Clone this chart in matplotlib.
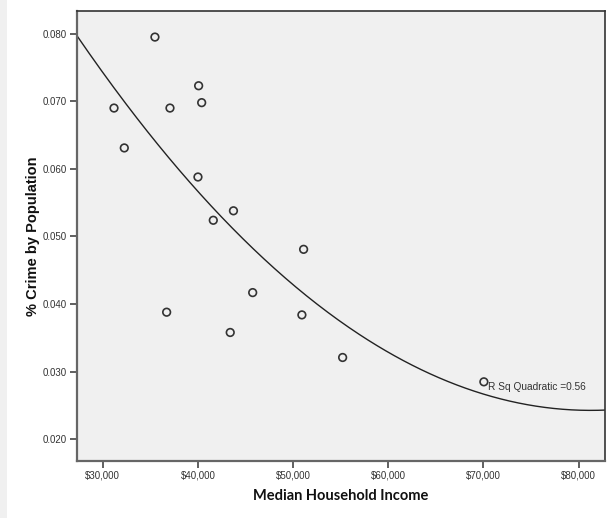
import numpy as np
import matplotlib
matplotlib.use("Agg")
import matplotlib.pyplot as plt
from matplotlib.ticker import FuncFormatter
from matplotlib.patches import Rectangle

# Data
income = [35480, 31180, 37060, 40070, 40390, 32260, 40000, 43730,
          41610, 51100, 45750, 36710, 50920, 43390, 55200, 70040]
crime = [0.0795, 0.0690, 0.0690, 0.0723, 0.0698, 0.0631, 0.0588, 0.0538,
         0.0524, 0.0481, 0.0417, 0.0388, 0.0384, 0.0358, 0.0321, 0.0285]
x_ticks = [30000, 40000, 50000, 60000, 70000, 80000]
y_ticks = [0.020, 0.030, 0.040, 0.050, 0.060, 0.070, 0.080]
fit_label = "R Sq Quadratic =0.56"

fig = plt.figure(figsize=(6.12, 5.18), dpi=100)
fig.patch.set_facecolor("white")
fig.patches.append(Rectangle((0, 0), 0.011, 1, transform=fig.transFigure,
                             facecolor="#f0f0f0", edgecolor="none", zorder=0))

ax = fig.add_axes([0.1253, 0.1106, 0.8632, 0.8682])
ax.set_facecolor("#f0f0f0")

xlim = (27258, 82763)
ylim = (0.01683, 0.08336)
ax.set_xlim(*xlim)
ax.set_ylim(*ylim)

# Quadratic fit
coef = np.polyfit(income, crime, 2)
xs = np.linspace(xlim[0], xlim[1], 300)
ax.plot(xs, np.polyval(coef, xs), color="#222222", lw=1.0, zorder=2)

ax.scatter(income, crime, s=30, facecolors="none", edgecolors="#333333",
           linewidths=1.2, zorder=3)

ax.text(70460, 0.02774, fit_label, fontsize=7.3, family="Liberation Sans",
        color="#333333", va="center", ha="left")

ax.set_xticks(x_ticks)
ax.set_yticks(y_ticks)
ax.xaxis.set_major_formatter(FuncFormatter(lambda v, p: "${:,.0f}".format(v)))
ax.yaxis.set_major_formatter(FuncFormatter(lambda v, p: "{:.3f}".format(v)))
ax.tick_params(axis="both", direction="out", length=5, width=1.2,
               color="#444444", labelsize=7, labelcolor="#333333", pad=2)
for lab in ax.get_xticklabels() + ax.get_yticklabels():
    lab.set_family("Liberation Sans")

for side in ["left", "bottom"]:
    ax.spines[side].set_color("#666666")
    ax.spines[side].set_linewidth(1.6)
for side in ["top", "right"]:
    ax.spines[side].set_color("#333333")
    ax.spines[side].set_linewidth(1.2)

ax.set_xlabel("Median Household Income", fontsize=10.5, fontweight="bold",
              family="Lato", color="#111111", labelpad=6)
ax.set_ylabel("% Crime by Population", fontsize=10.5, fontweight="bold",
              family="Liberation Sans", color="#111111", labelpad=2)

fig.savefig("out.png", dpi=100)
